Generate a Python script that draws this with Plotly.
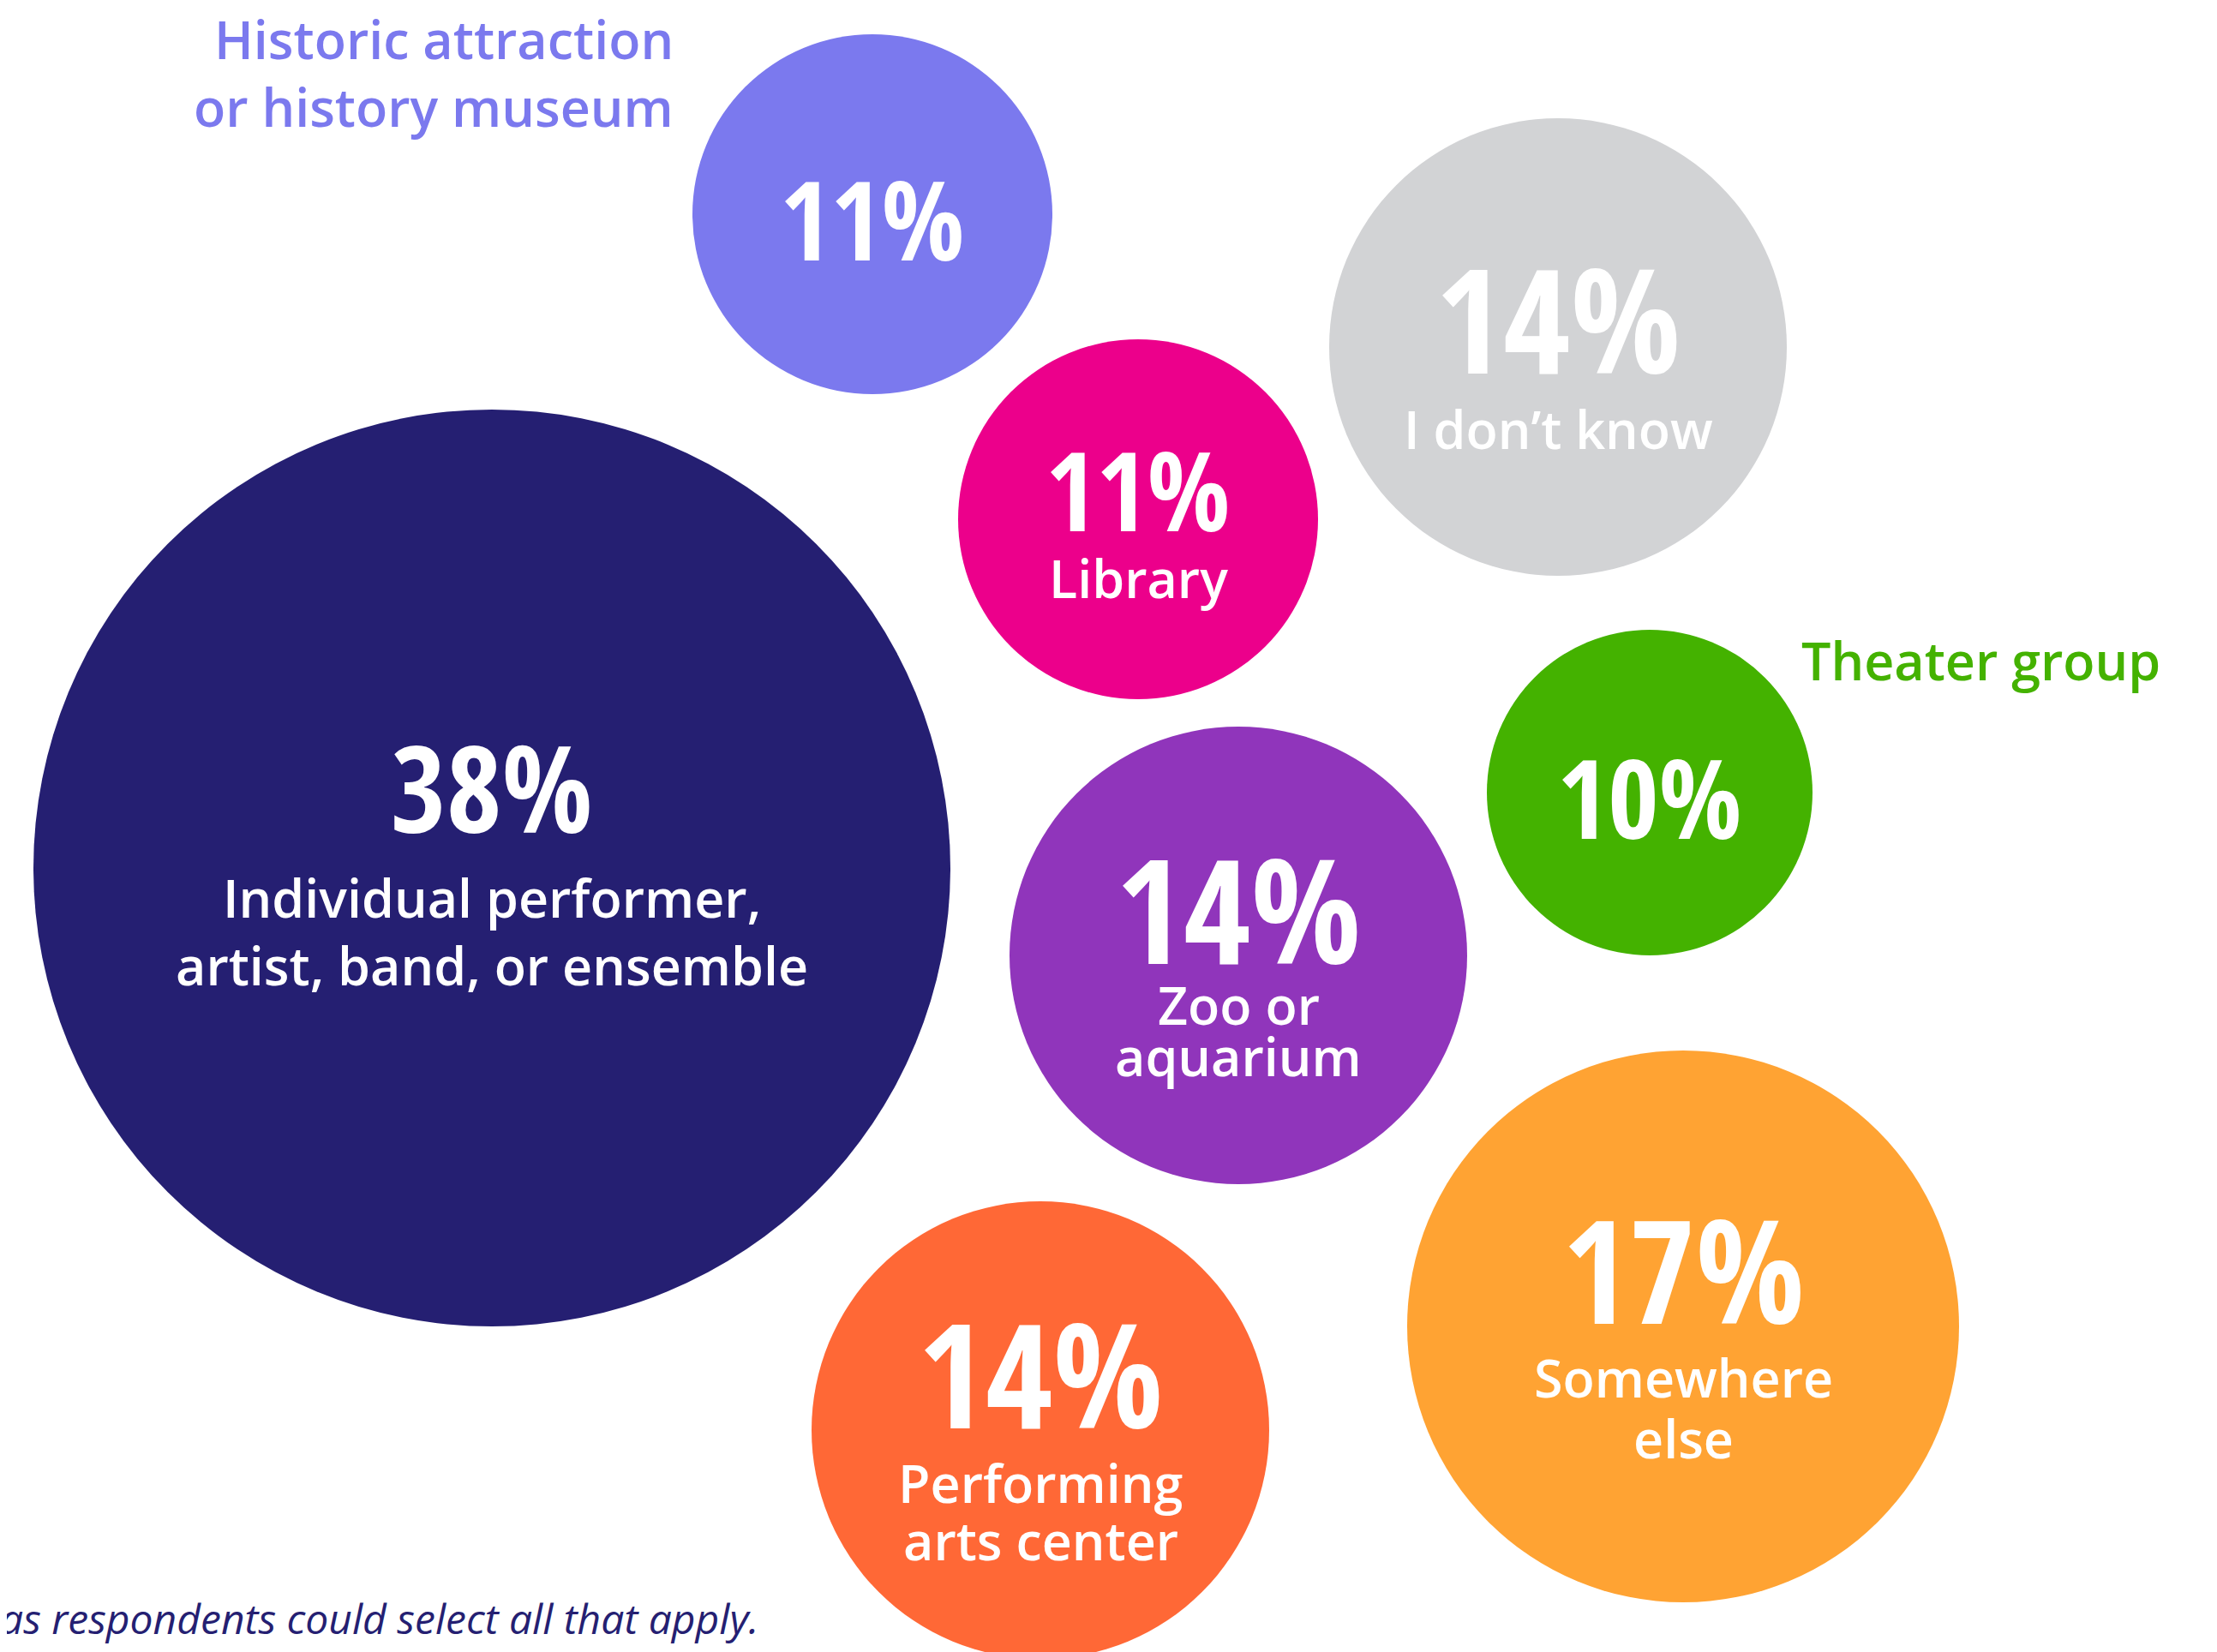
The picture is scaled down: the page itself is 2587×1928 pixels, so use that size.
import plotly.graph_objects as go

# ---------------- data ----------------
categories = [
    "Individual performer, artist, band, or ensemble",
    "Historic attraction or history museum",
    "Library",
    "I don't know",
    "Theater group",
    "Zoo or aquarium",
    "Somewhere else",
    "Performing arts center",
]
values = [38, 11, 11, 14, 10, 14, 17, 14]
pct_labels = ["38%", "11%", "11%", "14%", "10%", "14%", "17%", "14%"]
# label lines shown inside bubbles (empty = label outside bubble)
inside_lines = [
    ["Individual performer,", "artist, band, or ensemble"],
    [],
    ["Library"],
    ["I don\u2019t know"],
    [],
    ["Zoo or", "aquarium"],
    ["Somewhere", "else"],
    ["Performing", "arts center"],
]
outside_lines = [
    [],
    ["Historic attraction", "or history museum"],
    [],
    [],
    ["Theater group"],
    [],
    [],
    [],
]
footnote = "as respondents could select all that apply."

# ---------------- layout / style ----------------
W, H = 2587, 1928
OFF = 8  # default page margin of the html body
colors = ["#251F72", "#7B79EE", "#EC008B", "#D2D3D5", "#44B200", "#9035BB", "#FFA333", "#FF6836"]
# bubble centres (packed layout, in page pixels)
cx = [574, 1018, 1328, 1818, 1925, 1445, 1964, 1214]
cy = [1013, 250, 606, 405, 925, 1115, 1548, 1669]
diam = [1070, 420, 420, 534, 380, 534, 644, 534]
# percentage baseline offset from centre, font size
pct_dy = [-42, 53, 13, 30, 53, 9, -5, -3]
pct_size = [140, 128, 128, 170, 128, 170, 168, 170]
# label line baselines offset from centre
lab_dy = [[58, 137], [], [92], [119], [], [81, 141], [83, 154], [85, 152]]
LAB_SIZE = 61
FOOT_SIZE = 48
PCT_FONT = "Open Sans Condensed, Roboto Condensed, Liberation Sans Narrow, sans-serif"
LAB_FONT = "Open Sans, Noto Sans, sans-serif"

fig = go.Figure()
fig.add_trace(go.Scatter(
    x=cx, y=cy, mode="markers",
    marker=dict(size=diam, sizemode="diameter", color=colors, opacity=1, line=dict(width=0)),
    text=categories, customdata=values,
    hovertemplate="%{text}: %{customdata}%<extra></extra>",
    showlegend=False,
))

annotations = []
for i in range(len(categories)):
    s = pct_size[i]
    base = cy[i] + pct_dy[i]
    annotations.append(dict(
        x=cx[i], y=base - 0.38 * s, xref="x", yref="y", text=pct_labels[i], showarrow=False,
        xanchor="center", yanchor="middle",
        font=dict(family=PCT_FONT, size=s, color="white", weight=600),
    ))
    for line, dy in zip(inside_lines[i], lab_dy[i]):
        annotations.append(dict(
            x=cx[i], y=cy[i] + dy - 0.38 * LAB_SIZE, xref="x", yref="y", text=line, showarrow=False,
            xanchor="center", yanchor="middle",
            font=dict(family=LAB_FONT, size=LAB_SIZE, color="white", weight=600),
        ))

# outside labels
hist_base = [69, 148]
for line, b in zip(outside_lines[1], hist_base):
    annotations.append(dict(
        x=788, y=b - 0.38 * LAB_SIZE, xref="x", yref="y", text=line, showarrow=False,
        xanchor="right", yanchor="middle",
        font=dict(family=LAB_FONT, size=LAB_SIZE, color=colors[1], weight=600),
    ))
annotations.append(dict(
    x=2100, y=794 - 0.38 * LAB_SIZE, xref="x", yref="y", text=outside_lines[4][0], showarrow=False,
    xanchor="left", yanchor="middle",
    font=dict(family=LAB_FONT, size=LAB_SIZE, color=colors[4], weight=600),
))
annotations.append(dict(
    x=888, y=1907 - 0.38 * FOOT_SIZE, xref="x", yref="y", text=footnote, showarrow=False,
    xanchor="right", yanchor="middle",
    font=dict(family=LAB_FONT, size=FOOT_SIZE, color="#251F72", style="italic"),
))

fig.update_layout(
    width=W, height=H,
    margin=dict(l=0, r=0, t=0, b=0),
    paper_bgcolor="white", plot_bgcolor="white",
    xaxis=dict(range=[OFF, W + OFF], visible=False, fixedrange=True),
    yaxis=dict(range=[H + OFF, OFF], visible=False, fixedrange=True),
    annotations=annotations,
)
fig.write_html("out.html", config={"displayModeBar": False})
